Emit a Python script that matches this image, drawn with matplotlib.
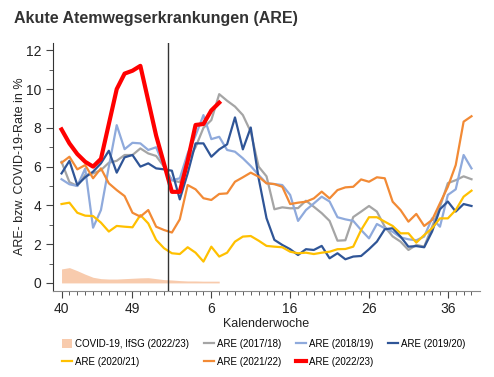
import matplotlib.pyplot as plt
import numpy as np

plt.rcParams['font.family'] = ['Liberation Sans', 'DejaVu Sans']

# Kalenderwochen 40..53, 1..39 (Saison mit 53 Wochen)
wochen = list(range(40, 54)) + list(range(1, 40))
tick_wochen = [40, 49, 6, 16, 26, 36]

are_1718 = [6.25, 5.2, 5.0, 5.57, 5.65, 5.82, 6.2, 6.3, 6.6, 6.6, 6.94, 6.68, 6.55, 6.0,
            5.3, 5.2, 6.3, 7.0, 8.0, 8.4, 9.74, 9.4, 9.1, 8.66, 7.8, 6.0, 5.5, 3.8, 3.9,
            3.85, 3.86, 4.24, 3.93, 3.6, 3.2, 2.18, 2.2, 3.4, 3.68, 3.97, 3.68, 2.9, 2.4,
            2.13, 1.7, 1.96, 1.87, 2.9, 3.93, 5.15, 5.3, 5.5, 5.35]
are_1819 = [5.35, 5.09, 5.0, 5.9, 2.85, 3.76, 6.0, 8.14, 6.9, 7.23, 7.2, 6.86, 7.0, 6.0,
            5.3, 5.4, 6.68, 7.6, 8.66, 7.42, 7.54, 6.86, 6.77, 6.43, 6.03, 5.57, 5.14, 5.1,
            5.05, 4.54, 3.2, 3.76, 4.1, 4.45, 4.2, 3.39, 3.28, 3.2, 2.73, 2.3, 3.04, 2.82,
            2.64, 2.35, 2.25, 2.2, 2.39, 3.33, 2.9, 4.54, 4.83, 6.6, 5.91]
are_1920 = [5.65, 6.3, 5.05, 5.45, 5.74, 6.17, 6.82, 5.69, 6.48, 6.6, 6.0, 6.17, 5.91, 5.86,
            5.79, 4.31, 5.65, 7.2, 7.2, 6.51, 6.89, 7.15, 8.54, 6.89, 8.02, 5.4, 3.34, 2.22,
            1.96, 1.74, 1.44, 1.74, 1.7, 1.91, 1.27, 1.53, 1.22, 1.36, 1.39, 1.74, 2.13, 2.77,
            2.82, 2.39, 1.87, 1.9, 1.84, 2.65, 3.8, 4.2, 3.68, 4.07, 3.97]
are_2021 = [4.07, 4.14, 3.62, 3.47, 3.45, 3.11, 2.65, 2.94, 2.9, 2.87, 3.5, 3.07, 2.22, 1.79,
            1.53, 1.49, 1.84, 1.56, 1.1, 1.87, 1.36, 1.56, 2.13, 2.39, 2.42, 2.18, 1.91, 1.87,
            1.84, 1.61, 1.53, 1.56, 1.49, 1.56, 1.61, 1.74, 1.75, 1.87, 2.73, 3.39, 3.39, 3.16,
            2.94, 2.56, 2.56, 2.08, 2.47, 2.82, 3.33, 3.33, 3.76, 4.45, 4.76]
are_2122 = [6.2, 6.51, 5.86, 6.08, 5.4, 5.91, 5.14, 4.79, 4.48, 3.62, 3.42, 3.76, 2.9, 2.73,
            2.6, 3.28, 5.05, 4.83, 4.37, 4.28, 4.59, 4.62, 5.22, 5.45, 5.69, 5.48, 5.14, 5.1,
            4.96, 4.07, 4.14, 4.19, 4.36, 4.71, 4.36, 4.79, 4.93, 4.96, 5.34, 5.22, 5.45, 5.4,
            4.19, 3.76, 3.16, 3.56, 2.94, 3.25, 4.11, 4.96, 6.08, 8.32, 8.6]
are_2223 = [7.92, 7.2, 6.65, 6.25, 6.0, 6.4, 8.2, 10.0, 10.8, 10.95, 11.2, 9.4, 7.6, 6.15,
            4.7, 4.7, 6.3, 8.15, 8.2, 8.9, 9.3]
covid_2223 = [0.72, 0.79, 0.63, 0.45, 0.29, 0.22, 0.2, 0.2, 0.22, 0.24, 0.26, 0.27, 0.22, 0.17,
              0.15, 0.12, 0.1, 0.1, 0.09, 0.09, 0.09]

x = np.arange(len(wochen))

fig = plt.figure(figsize=(4.94, 3.77), dpi=100)
ax = fig.add_axes([0.107, 0.229, 0.865, 0.658])

h_cov = ax.fill_between(x[:len(covid_2223)], 0, covid_2223, color="#f8cbad", lw=0,
                        label="COVID-19, IfSG (2022/23)")
h1, = ax.plot(x, are_1718, color="#a5a5a5", lw=1.6, label="ARE (2017/18)")
h2, = ax.plot(x, are_1819, color="#8faadc", lw=1.6, label="ARE (2018/19)")
h3, = ax.plot(x, are_1920, color="#2f5597", lw=1.6, label="ARE (2019/20)")
h4, = ax.plot(x, are_2021, color="#ffc000", lw=1.6, label="ARE (2020/21)")
h5, = ax.plot(x, are_2122, color="#f28a35", lw=1.6, label="ARE (2021/22)")
h6, = ax.plot(x[:len(are_2223)], are_2223, color="#ff0000", lw=3, label="ARE (2022/23)")

# Jahreswechsel
ax.axvline(13.5, color="#333333", lw=1)

ax.set_xlim(-1.1, 53.1)
ax.set_ylim(-0.4, 12.4)
ax.set_yticks(range(0, 13, 2))
ax.set_yticks(range(1, 13, 2), minor=True)
ax.set_xticks([wochen.index(w) for w in tick_wochen])
ax.set_xticklabels([str(w) for w in tick_wochen])
ax.set_xticks(x, minor=True)
ax.tick_params(axis="both", which="major", labelsize=10, length=5, color="#444444",
               labelcolor="#222222")
ax.tick_params(axis="both", which="minor", length=3, color="#444444")
for s in ["top", "right"]:
    ax.spines[s].set_visible(False)
ax.spines["left"].set_color("#333333")
ax.spines["bottom"].set_color("#888888")

ax.set_xlabel("Kalenderwoche", fontsize=9, color="#222222", labelpad=1)
ax.set_ylabel("ARE- bzw. COVID-19-Rate in %", fontsize=9, color="#222222")
ax.yaxis.set_label_coords(-0.062, 0.5)

fig.text(14/494, 1 - 11/377, "Akute Atemwegserkrankungen (ARE)", fontsize=11.5,
         fontweight="bold", color="#333333", va="top", ha="left")

handles = [h_cov, h4, h1, h5, h2, h6, h3]
fig.legend(handles=handles, labels=[h.get_label() for h in handles], ncol=4,
           loc="upper left", bbox_to_anchor=(62/494, 1 - 339/377), frameon=False,
           fontsize=7, handlelength=1.05, handleheight=1.0, handletextpad=0.3,
           columnspacing=1.5, labelspacing=0.85, borderpad=0, borderaxespad=0)

plt.savefig("out.png", dpi=100)
